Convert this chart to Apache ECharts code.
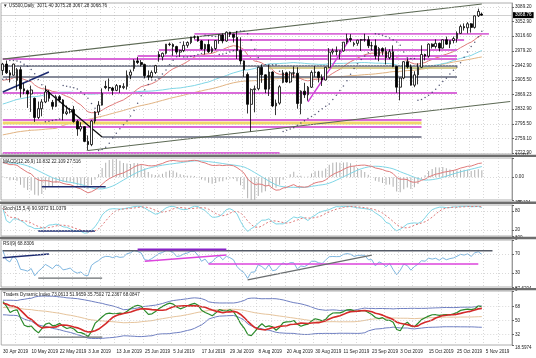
<!DOCTYPE html>
<html><head><meta charset="utf-8">
<script src="https://cdn.jsdelivr.net/npm/echarts@6/dist/echarts.min.js"></script>
<style>html,body{margin:0;padding:0;background:#fff}#c{width:536px;height:358px}</style>
</head><body><div id="c"></div>
<script>
// ---------- DATA ----------
// closes before the first visible bar (only used to warm up the indicators)
const warmupCloses = [2510,2448,2532,2550,2574,2585,2596,2596,2583,2610,2616,2636,2671,2665,2633,2639,2643,2665,2644,2641,2682,2704,
2707,2725,2738,2731,2706,2708,2709,2745,2753,2746,2776,2778,2780,2784,2774,2792,2796,2793,2793,2784,
2804,2792,2789,2771,2749,2743,2783,2792,2811,2808,2822,2833,2833,2824,2855,2801,2798,2818,2806,2815,2834,
2867,2867,2873,2880,2893,2896,2878,2888,2888,2907,2906,2908,2900,2905,2905,2908,2934,2927,2926,2940,2943];
const startDate = '2019-04-30';
const opens = [2930,2946,2924,2918,2905,2932,2884,2879,2871,2860,2812,2834,2851,2876,2850,2840,2864,2856,2822,2826,2832,2802,2783,2789,2752,2744,2803,2826,2843,2890,2887,2886,2880,2892,2887,2890,2918,2935,2954,2950,2945,2917,2914,2925,2970,2964,2973,2996,2995,2990,2976,2980,2993,3000,3014,3014,3004,2984,2995,2977,2985,3005,3019,3004,3026,3021,3013,2980,2954,2920,2845,2882,2884,2938,2919,2883,2926,2841,2848,2900,2924,2901,2924,2923,2847,2878,2869,2888,2925,2926,2912,2906,2938,2976,2979,2978,2979,3001,3010,2995,2998,3006,3007,3007,2992,2992,2967,2985,2978,2962,2977,2940,2888,2911,2952,2939,2893,2919,2938,2970,2966,2996,2990,2998,2986,3007,2996,3005,3010,3023,3040,3037,3047,3038,3067,3071.40];
const highs = [2949,2955,2931,2947,2936,2939,2898,2882,2892,2862,2852,2858,2892,2881,2856,2868,2868,2858,2842,2836,2841,2806,2800,2790,2767,2806,2828,2853,2885,2904,2910,2889,2896,2893,2898,2930,2932,2958,2964,2956,2947,2930,2930,2944,2978,2975,2996,3000,2998,2992,2982,3003,3003,3014,3018,3017,3006,2997,3007,2990,3006,3020,3023,3028,3027,3022,3029,3013,2955,2925,2885,2892,2940,2944,2920,2944,2928,2857,2893,2931,2927,2928,2940,2938,2880,2899,2891,2930,2941,2928,2920,2939,2986,2985,2990,2980,3001,3022,3021,3002,3007,3009,3022,3016,3002,3008,2989,2988,2988,2983,2993,2941,2912,2953,2960,2945,2928,2948,2993,2972,2998,2998,3008,3000,3008,3015,3005,3015,3028,3045,3048,3051,3049,3068,3085,3075.28];
const lows = [2918,2921,2900,2917,2880,2862,2870,2836,2826,2801,2808,2815,2848,2852,2832,2838,2850,2805,2818,2822,2799,2766,2777,2750,2729,2740,2797,2818,2842,2883,2878,2868,2878,2874,2883,2882,2908,2928,2946,2940,2910,2906,2910,2921,2952,2955,2970,2991,2967,2970,2964,2976,2987,2996,3008,3002,2982,2970,2974,2974,2981,2997,2998,3002,3014,3000,2959,2945,2914,2822,2777,2825,2880,2899,2873,2866,2838,2818,2844,2898,2899,2898,2912,2834,2820,2861,2854,2886,2914,2900,2891,2905,2936,2970,2968,2958,2977,2996,3001,2990,2992,2979,3002,2986,2981,2958,2953,2968,2945,2958,2938,2874,2855,2908,2935,2892,2888,2895,2936,2955,2962,2985,2985,2978,2985,2994,2986,2998,3000,3022,3030,3023,3025,3035,3064,3067.28];
const closes = [2946,2924,2918,2946,2932,2884,2879,2871,2881,2812,2834,2851,2876,2860,2840,2864,2856,2822,2826,2832,2802,2783,2789,2752,2744,2803,2826,2843,2873,2887,2886,2880,2892,2887,2890,2918,2926,2954,2950,2945,2917,2914,2925,2942,2964,2973,2996,2995,2990,2976,2980,2993,3000,3014,3014,3004,2984,2995,2977,2985,3005,3019,3004,3026,3021,3013,2980,2954,2932,2845,2882,2884,2938,2919,2883,2926,2841,2848,2889,2924,2901,2924,2923,2847,2878,2869,2888,2925,2926,2912,2906,2938,2976,2979,2978,2979,3001,3010,3007,2998,3006,3007,3007,2992,2992,2967,2985,2978,2962,2977,2940,2888,2911,2952,2939,2893,2919,2938,2970,2966,2996,2990,2998,2986,3007,2996,3005,3010,3023,3040,3037,3047,3038,3067,3078,3068.76];
const tickDates = ['30 Apr 2019','10 May 2019','22 May 2019','3 Jun 2019','13 Jun 2019','25 Jun 2019','5 Jul 2019','17 Jul 2019','29 Jul 2019','8 Aug 2019','20 Aug 2019','30 Aug 2019','11 Sep 2019','23 Sep 2019','3 Oct 2019','15 Oct 2019','25 Oct 2019','5 Nov 2019'];
const priceTicks = [3089.20,3052.90,3016.60,2979.20,2942.90,2905.50,2869.23,2832.90,2795.50,2759.10,2722.90];
const macdTicks = [37.971,0,-45.194];
const stochTicks = [100,80,20,0];
const rsiTicks = [100,70,30,0];
const tdiTicks = [87.6204,68,50,32,18.5974];
const headerText = '\u25BC US500,Daily  3071.40 3075.28 3067.28 3068.76';
const macdText = 'MACD(12,26,9) 10.832 22.109 27.516';
const stochText = 'Stoch(15,5,4) 90.9372 91.0379';
const rsiText = 'RSI(9) 68.8306';
const tdiText = 'Traders Dynamic Index 73.0613 51.9659 35.7502 72.2367 68.0847';
const lastPrice = 3068.76;
// drawn objects: [price, fromBar, toBar]
const magentaLevels = [[3021.5,54,137],[3006.4,54,130],[2981.3,44,128],[2966.3,38,128],[2958.7,0,128],[2873.4,0,128],[2805.7,0,118],[2788.1,0,118],[2722.9,0,78]];
const grayLevels = [[2941.2,0,128],[2913.6,0,128],[2763,28,118]];
const yellowLevels = [[2798.2,0,118]];
const khakiLevels = [[2936.2,75,128]];
// trendlines: [[bar,price],[bar,price]]
const channelLines = [[[0,2958.5],[135,3096.5]],[[24,2729],[143,2852]]];
const navyLines = [[[0,2876],[13,2926]]];
const blackLines = [[[12,2882],[28,2763]]];
const magentaDiags = [[[86,2851],[98,3011]]];
const macdLines = [[[11,-19.2],[29,-19.2]]];
const stochLines = [[[10,16],[26,16]]];
const rsiDark = [[[0,77],[138,77]]];
const rsiPurple = [[[38,80],[63,80]]];
const rsiMagenta = [[[40,55],[63,68]],[[58,49],[134,49]]];
const rsiNavy = [[[0,62],[13,70]]];
const rsiGray = [[[10,19],[28,19]],[[69,15],[104,68]]];
const tdiGray = [[[10,28.6],[28,28.6]]];

// ---------- INDICATORS ----------
function sma(a,n){const o=[];let s=0;for(let i=0;i<a.length;i++){s+=a[i];if(i>=n)s-=a[i-n];o.push(s/Math.min(i+1,n));}return o;}
function ema(a,n){const k=2/(n+1);const o=[];let e=a[0];for(let i=0;i<a.length;i++){e=i?a[i]*k+e*(1-k):a[i];o.push(e);}return o;}
function rsi(a,n){const o=[50];let g=0,l=0;for(let i=1;i<a.length;i++){const d=a[i]-a[i-1];const up=Math.max(d,0),dn=Math.max(-d,0);if(i<=n){g=(g*(i-1)+up)/i;l=(l*(i-1)+dn)/i;}else{g=(g*(n-1)+up)/n;l=(l*(n-1)+dn)/n;}o.push(l===0?100:100-100/(1+g/l));}return o;}
function sdev(a,n){const o=[];for(let i=0;i<a.length;i++){const s=Math.max(0,i-n+1);const w=a.slice(s,i+1);const m=w.reduce((x,y)=>x+y,0)/w.length;o.push(Math.sqrt(w.reduce((x,y)=>x+(y-m)*(y-m),0)/w.length));}return o;}
const N = closes.length, W = warmupCloses.length, PAD = 8;
const all = warmupCloses.concat(closes);
const tail = a => a.slice(W);
const maRed = tail(ema(all,20)), maCyan = tail(sma(all,50)), maTan = tail(sma(all,100));
const e12 = ema(all,12), e26 = ema(all,26);
const macdAll = e12.map((v,i)=>v-e26[i]); const sigAll = sma(macdAll,9);
const macd = tail(macdAll), macdSig = tail(sigAll), macdHist = macd.map((v,i)=>2*(v-macdSig[i]));
const rsi9 = tail(rsi(all,9));
const r13 = rsi(all,13);
const tdiPrice = tail(sma(r13,2)), tdiSig = tail(sma(r13,7)), baseAll = sma(r13,34), sdAll = sdev(r13,34);
const tdiBase = tail(baseAll), tdiUp = tail(baseAll.map((v,i)=>v+1.6185*sdAll[i])), tdiLo = tail(baseAll.map((v,i)=>v-1.6185*sdAll[i]));
const K=15, SL=4, DP=5;
const num=[],den=[];
for(let i=0;i<N;i++){const s=Math.max(0,i-K+1);let hh=-1e9,ll=1e9;for(let j=s;j<=i;j++){hh=Math.max(hh,highs[j]);ll=Math.min(ll,lows[j]);}num.push(closes[i]-ll);den.push(hh-ll);}
const stK=[];for(let i=0;i<N;i++){let a=0,b=0;for(let j=Math.max(0,i-SL+1);j<=i;j++){a+=num[j];b+=den[j];}stK.push(b?100*a/b:50);}
const stD = sma(stK,DP);
// parabolic SAR
const sar=[];{let up=true,af=0.02,ep=highs[0],s=lows[0]-10;sar.push(s);
for(let i=1;i<N;i++){s=s+af*(ep-s);
 if(up){s=Math.min(s,lows[i-1],i>1?lows[i-2]:lows[i-1]);if(lows[i]<s){up=false;s=ep;ep=lows[i];af=0.02;}else if(highs[i]>ep){ep=highs[i];af=Math.min(af+0.02,0.2);}}
 else{s=Math.max(s,highs[i-1],i>1?highs[i-2]:highs[i-1]);if(highs[i]>s){up=true;s=ep;ep=highs[i];af=0.02;}else if(lows[i]<ep){ep=lows[i];af=Math.min(af+0.02,0.2);}}
 sar.push(s);}}

// ---------- CATEGORIES ----------
const MON=['Jan','Feb','Mar','Apr','May','Jun','Jul','Aug','Sep','Oct','Nov','Dec'];
const cats=[];{let t=Date.parse(startDate+'T00:00:00Z');while(cats.length<N){const d=new Date(t);const wd=d.getUTCDay();if(wd&&wd<6)cats.push(d.getUTCDate()+' '+MON[d.getUTCMonth()]+' '+d.getUTCFullYear());t+=864e5;}}
for(let i=0;i<PAD;i++)cats.push('pad'+i);

// ---------- LAYOUT ----------
const FONT='Liberation Sans', FS=4.6;
const panes=[{top:3,h:151},{top:158,h:42},{top:205,h:31},{top:240,h:47},{top:291,h:54}];
const grids=panes.map(p=>({left:1,right:24,top:p.top,height:p.h,show:true,borderColor:'#9a9a9a',borderWidth:0.8,backgroundColor:'#fff'}));
const xAxes=panes.map((p,gi)=>({type:'category',gridIndex:gi,data:cats,boundaryGap:true,
 axisLine:{show:false},axisTick:{show:false},
 splitLine:{show:true,interval:(i)=>i%4===0,lineStyle:{color:'#c9c9c9',type:[1,2],width:0.7}},
 axisLabel:gi===4?{show:true,interval:(i,v)=>tickDates.includes(v),align:'left',fontSize:FS,fontFamily:FONT,color:'#222',margin:4,
   formatter:v=>v==='5 Nov 2019'?'{s|'+v+'}':v,rich:{s:{fontSize:FS,fontFamily:FONT,color:'#222',padding:[0,0,0,4]}}}:{show:false}}));
function yax(gi,min,max,ticks,fmt){return {type:'value',gridIndex:gi,position:'right',min,max,scale:false,
 axisLine:{show:true,lineStyle:{color:'#8a8a8a',width:0.8}},axisTick:{show:true,length:2,customValues:ticks,lineStyle:{color:'#666'}},
 splitLine:{show:false},axisLabel:{show:true,customValues:ticks,fontSize:FS,fontFamily:FONT,color:'#222',margin:3,formatter:fmt,
 verticalAlignMaxLabel:gi?'top':null,verticalAlignMinLabel:gi?'bottom':null}};}
const yAxes=[yax(0,2720.4,3099.2,priceTicks,v=>v.toFixed(2)),
 yax(1,-45.194,37.971,macdTicks,v=>v===0?'0.00':String(v)),
 yax(2,0,100,stochTicks,v=>String(v)),
 yax(3,0,100,rsiTicks,v=>String(v)),
 yax(4,18.5974,87.6204,tdiTicks,v=>String(v))];

const series=[];
const dotted={color:'#c9c9c9',type:[1,2],width:0.7};
function line(gi,data,color,width,extra){series.push(Object.assign({type:'line',xAxisIndex:gi,yAxisIndex:gi,data,symbol:'none',silent:true,
 lineStyle:{color,width},z:3},extra||{}));}
function segs(gi,list,color,width,z){list.forEach(s=>series.push({type:'line',xAxisIndex:gi,yAxisIndex:gi,data:s,symbol:'none',silent:true,lineStyle:{color,width},z:z||4}));}
function levels(gi,list,color,width,z){segs(gi,list.map(l=>[[l[1],l[0]],[l[2],l[0]]]),color,width,z);}

// main pane grid lines + MAs
line(0,maTan,'#e2b483',1,{z:2,markLine:{silent:true,symbol:'none',label:{show:false},lineStyle:dotted,data:priceTicks.map(v=>({yAxis:v}))}});
line(0,maCyan,'#7fd6e6',1,{z:2});
line(0,maRed,'#e07a7a',1,{z:2});
levels(0,yellowLevels,'#f0d66a',3,3);
levels(0,magentaLevels,'#d96ad9',1.8,4);
levels(0,grayLevels,'#5f6478',1.5,4);
levels(0,khakiLevels,'#c6bd6c',1.5,4);
segs(0,channelLines,'#5d6a55',1.1,4);
segs(0,navyLines,'#1d2b70',1.5,4);
segs(0,blackLines,'#111',1.3,4);
segs(0,magentaDiags,'#d040d8',1.5,4);
series.push({type:'scatter',xAxisIndex:0,yAxisIndex:0,data:sar,symbolSize:1.5,itemStyle:{color:'#2b2f55'},silent:true,z:5});
series.push({type:'candlestick',xAxisIndex:0,yAxisIndex:0,barWidth:2.2,silent:true,z:6,
 data:opens.map((o,i)=>[o,closes[i],lows[i],highs[i]]),
 itemStyle:{color:'#ffffff',color0:'#000000',borderColor:'#000000',borderColor0:'#000000',borderWidth:0.8},
 markLine:{silent:true,symbol:'none',lineStyle:{color:'#b0b0b0',width:0.6,type:'solid'},
  label:{show:true,position:'end',formatter:()=>lastPrice.toFixed(2),backgroundColor:'#000',color:'#fff',fontSize:FS,fontFamily:FONT,padding:[1,2,0,2],distance:1},
  data:[{yAxis:lastPrice}]}});

// MACD
series.push({type:'bar',xAxisIndex:1,yAxisIndex:1,data:macdHist,barWidth:0.8,itemStyle:{color:'#b0b0b0'},silent:true,z:2,
 markLine:{silent:true,symbol:'none',label:{show:false},lineStyle:dotted,data:[{yAxis:0}]}});
line(1,macdSig,'#7fd6e6',1);
line(1,macd,'#e07a7a',1);
segs(1,macdLines,'#1d2b70',1.5);

// Stochastic
line(2,stK,'#7fd6e6',1,{markLine:{silent:true,symbol:'none',label:{show:false},lineStyle:dotted,data:[{yAxis:80},{yAxis:20}]}});
line(2,stD,'#e07a7a',1,{lineStyle:{color:'#e07a7a',width:1,type:[2,2]}});
segs(2,stochLines,'#1d2b70',1.5);

// RSI
line(3,rsi9,'#7eb6e0',1,{markLine:{silent:true,symbol:'none',label:{show:false},lineStyle:dotted,data:[{yAxis:70},{yAxis:30}]}});
segs(3,rsiDark,'#555a66',1.6);
segs(3,rsiPurple,'#8a24c8',2);
segs(3,rsiMagenta,'#dd44dd',1.5);
segs(3,rsiNavy,'#1d2b70',1.5);
segs(3,rsiGray,'#6a6e70',1.3);

// TDI
line(4,tdiUp,'#6f7fc2',1,{markLine:{silent:true,symbol:'none',label:{show:false},lineStyle:dotted,data:[{yAxis:68},{yAxis:50},{yAxis:32}]}});
line(4,tdiLo,'#6f7fc2',1);
line(4,tdiBase,'#e6c49c',1);
line(4,tdiPrice,'#2a8a2a',1.2);
line(4,tdiSig,'#d42a2a',1.6);
segs(4,tdiGray,'#6a6e70',1.3);

// texts & separators
const txt=(x,y,t)=>({type:'text',left:x,top:y,silent:true,z:50,style:{text:t,fontSize:FS,fontFamily:FONT,fill:'#222'}});
const sep=(y)=>({type:'rect',shape:{x:0,y:y,width:536,height:2.4},silent:true,z:40,style:{fill:'#6e6e6e'}});
const graphic=[sep(154.7),sep(201.6),sep(236.8),sep(287.9),
 txt(3,3,headerText),txt(3,159.5,macdText),txt(3,206,stochText),txt(3,241,rsiText),txt(3,292.5,tdiText)];

const chart=echarts.init(document.getElementById('c'),null,{renderer:'canvas'});
chart.setOption({animation:false,backgroundColor:'#fff',grid:grids,xAxis:xAxes,yAxis:yAxes,series,graphic});
</script></body></html>
